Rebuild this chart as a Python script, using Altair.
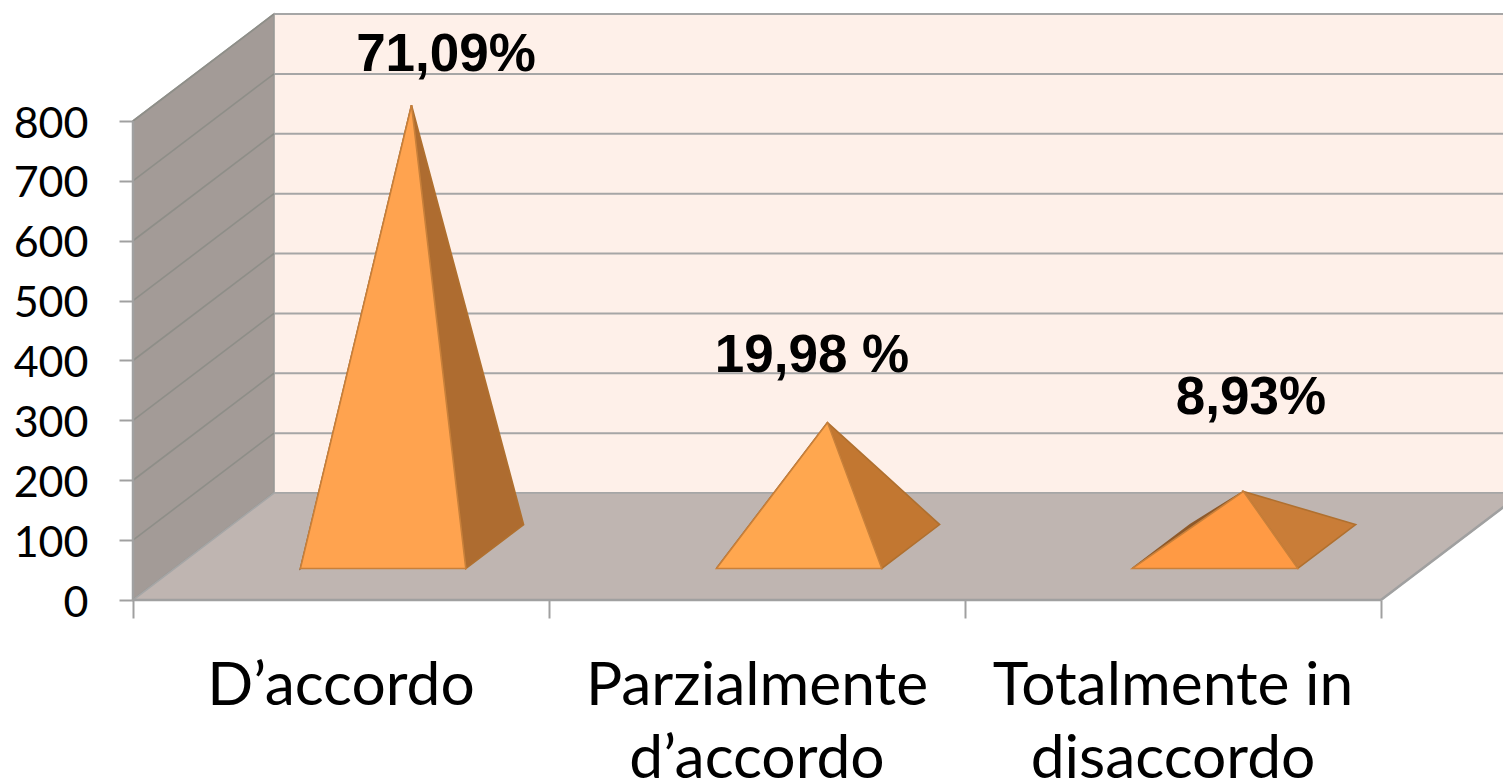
import altair as alt
import pandas as pd

categories = ["D’accordo", "Parzialmente\nd’accordo", "Totalmente in\ndisaccordo"]
values = [737, 207, 92]
shares = ["71,09%", "19,98 %", "8,93%"]
y_ticks = [0, 100, 200, 300, 400, 500, 600, 700, 800]
x_ticks = [0, 1, 2, 3]

# layout (reference pixels)
X0, X1, Y0, Y800 = 133.0, 1381.0, 600.0, 121.0
PXU = (X1 - X0) / 3
PXV = (Y0 - Y800) / 800
DX, DY = 141.0, 107.0
W, H = 1495, 776
xdom = [(8 - X0) / PXU, (8 + W - X0) / PXU]
ydom = [(Y0 - (8 + H)) / PXV, (Y0 - 8) / PXV]


def proj(u, d, v):
    return (u + d * DX / PXU, v + d * DY / PXV)


def envelope(pid, pts, fill, stroke):
    n = len(pts)
    rows = []
    for x in sorted({p[0] for p in pts}):
        ys = []
        for i in range(n):
            a, b = pts[i], pts[(i + 1) % n]
            lo, hi = min(a[0], b[0]), max(a[0], b[0])
            if lo - 1e-9 <= x <= hi + 1e-9:
                if abs(a[0] - b[0]) < 1e-9:
                    ys += [a[1], b[1]]
                else:
                    ys.append(a[1] + (b[1] - a[1]) * (x - a[0]) / (b[0] - a[0]))
        rows.append(dict(pid=pid, x=x, y=max(ys), y2=min(ys), fill=fill, stroke=stroke))
    return rows


walls = []
walls += envelope("back", [proj(0, 1, 0), proj(3, 1, 0), proj(3, 1, 800), proj(0, 1, 800)], "#FEF0E9", "#FEF0E9")
walls += envelope("side", [proj(0, 0, 0), proj(0, 1, 0), proj(0, 1, 800), proj(0, 0, 800)], "#A39B97", "#9A9A96")
floor = envelope("floor", [proj(0, 0, 0), proj(3, 0, 0), proj(3, 1, 0), proj(0, 1, 0)], "#BFB5B1", "#A6A6A6")

side_cols = ["#AE6C30", "#C27731", "#C97D38"]
front_cols = ["#FFA34F", "#FFA74F", "#FF9A44"]
D0, D1, U0, U1 = 0.295, 0.705, 0.3025, 0.70
pyr = []
for i, v in enumerate(values):
    fl, fr = proj(i + U0, D0, 0), proj(i + U1, D0, 0)
    br, bl = proj(i + U1, D1, 0), proj(i + U0, D1, 0)
    ap = proj(i + 0.5, 0.5, v)
    pyr += envelope(f"p{i}l", [fl, bl, ap], "#8F5A2A", "#8F5A2A")
    pyr += envelope(f"p{i}s", [fr, br, ap], side_cols[i], "#B0702F")
    pyr += envelope(f"p{i}f", [fl, fr, ap], front_cols[i], "#C9803A")

xs = alt.Scale(domain=xdom, nice=False, zero=False)
ys = alt.Scale(domain=ydom, nice=False, zero=False)
x_axis = alt.Axis(
    values=x_ticks, labels=False, title=None, grid=False, domain=False,
    ticks=True, tickSize=18, tickColor="#A0A0A0", tickWidth=2, offset=-(8 + H - Y0))
y_axis = alt.Axis(
    values=y_ticks, title=None, grid=False, domain=False, ticks=True, tickSize=14,
    tickColor="#A0A0A0", tickWidth=2, labelFont="Lato", labelFontSize=43, labelColor="#000000",
    labelPadding=31, labelOffset=3, offset=-(X0 - 8))
X = alt.X("x:Q", scale=xs, axis=x_axis)
Y = alt.Y("y:Q", scale=ys, axis=y_axis)


def polys(rows):
    return alt.Chart(pd.DataFrame(rows)).mark_area(orient="vertical", strokeWidth=1.6, clip=True).encode(
        x=X, y=Y, y2="y2:Q", detail="pid:N",
        fill=alt.Fill("fill:N", scale=None),
        stroke=alt.Stroke("stroke:N", scale=None),
    )


def seg(rows, color, width):
    return alt.Chart(pd.DataFrame(rows)).mark_rule(color=color, strokeWidth=width, clip=True).encode(
        x=X, x2="x2:Q", y=Y, y2="y2:Q")


back_lines = []
side_lines = []
for t in y_ticks:
    a, b = proj(0, 1, t), proj(3, 1, t)
    back_lines.append(dict(x=a[0], x2=b[0], y=a[1], y2=b[1]))
    c = proj(0, 0, t)
    side_lines.append(dict(x=c[0], x2=a[0], y=c[1], y2=a[1]))

edges = [
    dict(x=0, x2=3, y=0, y2=0),
    dict(x=0, x2=0, y=0, y2=800),
    dict(x=3, x2=proj(3, 1, 0)[0], y=0, y2=proj(3, 1, 0)[1]),
]

LABEL_X = [(446 - X0) / PXU, (812 - X0) / PXU, (1251 - X0) / PXU]
LABEL_Y = [(Y0 - 71) / PXV, (Y0 - 372) / PXV, (Y0 - 414) / PXV]
share_df = pd.DataFrame(dict(x=LABEL_X, y=LABEL_Y, t=shares))
share_text = alt.Chart(share_df).mark_text(
    font="Liberation Sans", fontWeight="bold", fontSize=53, color="#000000", baseline="alphabetic", align="center"
).encode(x=X, y=Y, text="t:N")

cat_df = pd.DataFrame(dict(x=[i + 0.5 for i in range(3)], y=[(Y0 - 705) / PXV] * 3, t=categories))
cat_text = alt.Chart(cat_df).mark_text(
    font="Lato", fontSize=60.5, color="#000000", baseline="alphabetic", align="center",
    lineBreak="\n", lineHeight=73
).encode(x=X, y=Y, text="t:N")

chart = alt.layer(
    polys(walls),
    seg(back_lines, "#A6A6A6", 2),
    seg(side_lines, "#8E8E88", 1.6),
    polys(floor),
    seg(edges, "#A0A0A0", 2.5),
    polys(pyr),
    share_text,
    cat_text,
).properties(
    width=W, height=H, padding=0, autosize=alt.AutoSizeParams(type="none"), background="#FFFFFF"
).configure_view(stroke=None)

chart.save("out.html", embed_options={"renderer": "svg", "actions": False})
